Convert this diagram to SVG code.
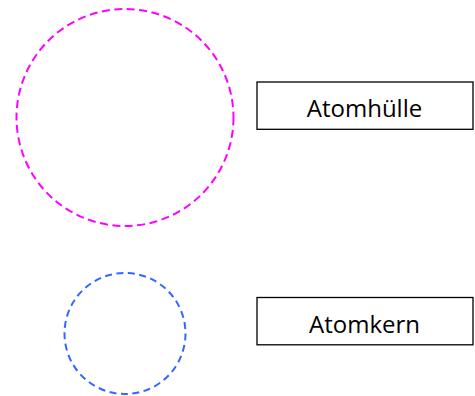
<svg xmlns="http://www.w3.org/2000/svg" width="475" height="396" viewBox="0 0 475 396">
<style>
.box{fill:#fff;stroke:#000;stroke-width:1.3}
.lbl{font-family:"Open Sans","Noto Sans",sans-serif;font-size:24px;fill:#000;text-anchor:middle}
.shell{fill:none;stroke:#ff00ff;stroke-width:2;stroke-dasharray:8 4.5}
.core{fill:none;stroke:#3366ff;stroke-width:2;stroke-dasharray:7 4.5}
</style>
<rect width="475" height="396" fill="#fff"/>
<g id="huelle-kreis"><circle class="shell" cx="125" cy="117.5" r="108.5"/></g>
<g id="kern-kreis"><circle class="core" cx="125" cy="333.5" r="60.5"/></g>
<g id="atomhuelle"><rect class="box" x="257" y="82" width="216" height="47.3"/><text class="lbl" x="364.5" y="117.3">Atomhülle</text></g>
<g id="atomkern"><rect class="box" x="257" y="297.5" width="216" height="47.3"/><text class="lbl" x="364.5" y="332.7">Atomkern</text></g>
<g id="connectors"></g>
</svg>
